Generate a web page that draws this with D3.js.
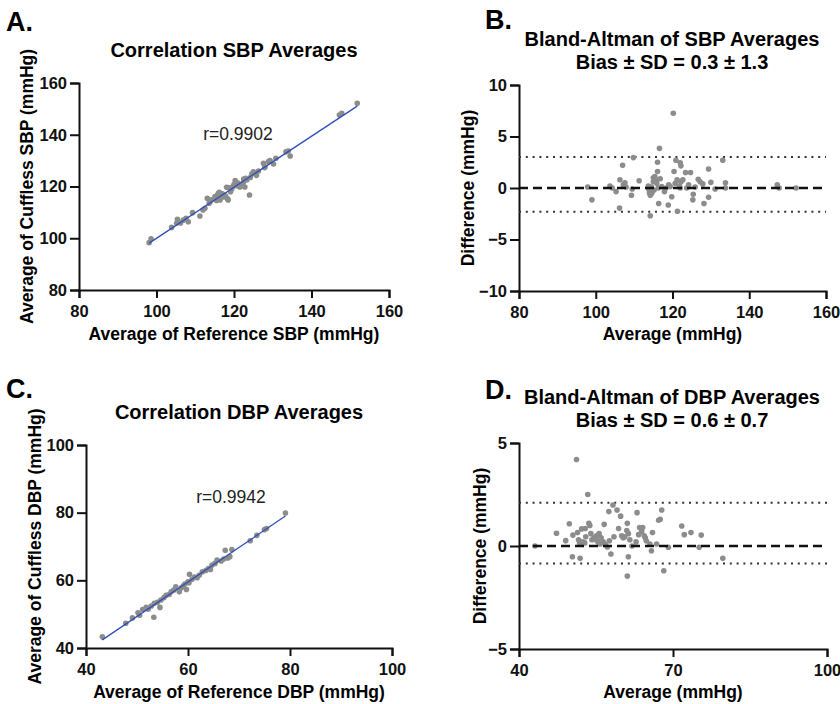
<!DOCTYPE html>
<html>
<head>
<meta charset="utf-8">
<script src="https://cdn.jsdelivr.net/npm/d3@7"></script>
<style>
  body { margin: 0; background: white; }
  svg { font-family: "Liberation Sans", Arial, sans-serif; }
</style>
</head>
<body>
<svg id="fig" width="840" height="704"></svg>
<script>
// A. reference SBP vs cuffless SBP
const sbpRef = [98.1, 98.6, 103.9, 105.2, 105.4, 106.2, 106.9, 107.6, 108.2, 109.3, 111.2, 112.0, 112.5, 113.1, 113.6, 113.8, 114.2, 115.1, 115.5, 115.8, 116.0, 116.2, 116.4, 116.8, 117.0, 117.3, 117.8, 118.1, 118.3, 118.5, 118.8, 119.1, 119.4, 119.8, 120.0, 120.3, 120.8, 121.0, 121.5, 122.0, 122.4, 122.5, 122.8, 123.0, 123.3, 124.0, 124.2, 124.6, 125.0, 125.8, 126.3, 127.6, 127.9, 128.0, 128.9, 129.3, 130.2, 130.8, 133.4, 134.0, 134.5, 147.2, 147.8, 151.8];
const sbpCuff = [98.3, 99.8, 104.2, 105.8, 107.3, 105.9, 107.0, 107.7, 106.4, 109.9, 108.6, 110.9, 111.6, 115.4, 113.5, 114.1, 114.9, 116.1, 114.6, 116.9, 117.4, 117.8, 114.8, 116.6, 117.2, 116.0, 116.4, 119.7, 115.3, 114.8, 119.5, 118.0, 119.0, 120.1, 120.8, 122.3, 120.3, 121.3, 119.8, 120.6, 121.5, 122.9, 119.8, 123.2, 122.5, 116.7, 123.5, 124.8, 125.7, 124.3, 126.0, 129.0, 127.3, 127.5, 129.6, 130.0, 128.7, 130.9, 133.4, 133.7, 131.8, 147.6, 148.3, 152.2];

// B. Bland-Altman SBP
const sbpAvg = [97.9, 99.0, 103.7, 104.3, 105.3, 106.3, 106.2, 107.0, 107.2, 107.6, 107.9, 109.3, 109.5, 109.8, 111.3, 113.7, 113.8, 114.0, 114.2, 114.2, 114.3, 114.5, 114.6, 115.0, 115.0, 115.2, 115.4, 115.7, 115.9, 116.1, 116.1, 116.3, 116.4, 116.6, 116.8, 117.2, 117.9, 118.3, 118.9, 119.0, 119.4, 119.8, 120.2, 120.4, 120.7, 120.9, 121.2, 121.3, 121.8, 122.0, 122.0, 122.2, 122.2, 122.7, 123.4, 123.7, 124.2, 124.7, 125.3, 125.4, 125.9, 126.7, 127.2, 127.9, 128.2, 129.4, 129.4, 130.0, 131.1, 133.1, 133.8, 133.8, 147.3, 147.8, 152.2];
const sbpDiff = [0.1, -1.15, 0.2, 0.0, -0.35, 0.8, -1.95, 2.2, 0.3, 0.5, 0.1, -0.7, -0.1, 2.95, 0.7, 0.2, -0.1, -0.45, -0.7, -2.7, -0.3, 0.1, -0.5, 1.0, 0.6, -0.2, 1.1, 0.8, 0.45, 2.5, 1.6, 0.0, -1.5, 3.85, 0.9, 0.15, -0.35, 0.0, -1.65, 0.3, 0.15, -0.85, 7.25, 1.6, 0.45, 2.7, 0.8, -2.25, 0.2, 2.45, 0.0, 2.15, 0.6, 0.8, 1.5, 0.0, 0.3, 1.5, -1.15, -0.6, 0.1, 0.85, 0.6, 0.4, -1.5, 1.85, -0.9, 0.55, -0.1, 2.7, 0.5, 0.0, 0.3, 0.0, 0.0];
const sbpLimits = [3.0, -2.3];

// C. reference DBP vs cuffless DBP
const dbpRef = [43.2, 47.8, 49.1, 50.2, 50.5, 51.1, 51.8, 52.2, 52.8, 53.3, 53.4, 54.0, 54.5, 54.7, 55.3, 55.7, 56.3, 56.7, 57.2, 57.6, 58.3, 58.7, 59.1, 59.4, 59.7, 60.0, 60.2, 60.3, 60.8, 61.3, 61.8, 62.2, 62.8, 63.5, 64.0, 64.4, 64.7, 65.3, 65.7, 66.5, 67.0, 67.3, 67.8, 68.2, 68.6, 72.2, 73.5, 75.0, 75.4, 79.1];
const dbpCuff = [43.3, 47.3, 48.9, 50.4, 49.7, 51.4, 52.0, 51.5, 52.4, 49.1, 53.2, 53.5, 52.0, 54.2, 54.9, 55.6, 55.8, 56.6, 57.1, 58.1, 56.6, 57.8, 58.4, 58.9, 57.3, 59.6, 59.3, 61.8, 60.3, 61.0, 60.8, 61.5, 62.5, 62.9, 63.5, 63.2, 64.5, 65.0, 66.0, 65.7, 66.3, 68.9, 66.6, 67.0, 69.1, 71.7, 73.3, 75.0, 75.3, 79.9];

// D. Bland-Altman DBP
const dbpAvg = [43.1, 47.3, 49.1, 49.8, 50.4, 50.5, 51.2, 51.4, 51.6, 51.8, 51.9, 52.2, 52.4, 52.8, 52.9, 53.0, 53.4, 53.6, 53.8, 54.0, 54.2, 54.6, 55.0, 55.1, 55.4, 55.6, 55.8, 56.0, 56.4, 56.6, 56.8, 57.2, 57.5, 57.6, 57.9, 58.3, 58.5, 59.1, 59.4, 59.8, 60.0, 60.3, 60.6, 61.0, 61.1, 61.3, 61.3, 61.1, 61.6, 62.0, 62.8, 63.0, 63.3, 63.5, 63.9, 64.1, 64.4, 64.6, 64.8, 65.5, 65.8, 66.0, 66.8, 67.2, 67.5, 67.8, 68.2, 69.1, 71.7, 72.2, 73.5, 75.1, 75.5, 79.7];
const dbpDiff = [0.0, 0.62, 0.26, 1.08, -0.52, 0.53, 4.2, 0.65, 0.3, 0.15, -0.6, 0.83, 0.2, 0.15, 0.85, 0.45, 2.5, 1.1, 1.0, 0.6, 0.3, 0.4, 0.3, 0.5, 0.2, 0.6, 0.1, 0.4, 0.2, 1.05, 0.1, -0.05, 1.67, 0.25, -0.39, 1.99, 0.45, 1.75, 0.85, 1.45, 0.5, 0.4, 0.45, 0.75, 1.1, 0.6, -0.52, -1.46, 0.3, 0.0, 0.2, 1.62, 0.55, 0.9, 0.7, 0.9, 0.5, 0.4, 0.25, 0.1, -0.23, 0.65, 0.1, 1.25, 1.3, 1.75, -1.2, -0.06, 0.97, 0.55, 0.65, -0.06, 0.53, -0.6];
const dbpLimits = [2.1, -0.85];

const svg = d3.select("#fig");
svg.append("rect").attr("width", 840).attr("height", 704).attr("fill", "white");

const dotColor = "#8c8c8c";
const lineBlue = "#2f4fb8";

function styleAxis(g) {
  g.select(".domain").attr("stroke", "#111").attr("stroke-width", 2);
  g.selectAll(".tick line").attr("stroke", "#111").attr("stroke-width", 2);
  g.selectAll(".tick text")
    .attr("fill", "#111")
    .style("font-size", "16.5px")
    .style("font-weight", "bold");
}

function drawAxes(p) {
  const x = d3.scaleLinear().domain(p.xDomain).range(p.xRange);
  const y = d3.scaleLinear().domain(p.yDomain).range(p.yRange);

  svg.append("g")
    .attr("transform", `translate(0,${p.yRange[0]})`)
    .call(d3.axisBottom(x).tickValues(p.xTicks).tickSizeOuter(0).tickSize(8).tickPadding(7))
    .call(styleAxis);

  svg.append("g")
    .attr("transform", `translate(${p.xRange[0]},0)`)
    .call(d3.axisLeft(y).tickValues(p.yTicks).tickSizeOuter(0).tickSize(9).tickPadding(3))
    .call(styleAxis);

  svg.append("text")
    .attr("x", p.letterPos[0]).attr("y", p.letterPos[1])
    .style("font-size", "27px").style("font-weight", "bold")
    .text(p.letter);

  p.title.forEach((t, i) => {
    svg.append("text")
      .attr("x", p.titlePos[0]).attr("y", p.titlePos[1] + i * 23)
      .attr("text-anchor", "middle")
      .style("font-size", "20px").style("font-weight", "bold")
      .text(t);
  });

  svg.append("text")
    .attr("x", (p.xRange[0] + p.xRange[1]) / 2).attr("y", p.xLabelY)
    .attr("text-anchor", "middle")
    .style("font-size", "17.5px").style("font-weight", "bold")
    .text(p.xLabel);

  svg.append("text")
    .attr("transform", `translate(${p.yLabelX},${(p.yRange[0] + p.yRange[1]) / 2}) rotate(-90)`)
    .attr("text-anchor", "middle")
    .attr("dy", "0.35em")
    .style("font-size", "17.5px").style("font-weight", "bold")
    .text(p.yLabel);

  return { x, y };
}

function drawDots(s, xs, ys) {
  svg.append("g")
    .selectAll("circle")
    .data(xs.map((d, i) => [d, ys[i]]))
    .join("circle")
      .attr("cx", d => s.x(d[0]))
      .attr("cy", d => s.y(d[1]))
      .attr("r", 2.8)
      .attr("fill", dotColor);
}

function drawCorrelation(p, xs, ys, rText, rPos) {
  const s = drawAxes(p);
  drawDots(s, xs, ys);

  // least squares fit
  const mx = d3.mean(xs), my = d3.mean(ys);
  const slope = d3.sum(xs, (d, i) => (d - mx) * (ys[i] - my)) / d3.sum(xs, d => (d - mx) ** 2);
  const icpt = my - slope * mx;
  const ext = d3.extent(xs);
  svg.append("line")
    .attr("x1", s.x(ext[0])).attr("y1", s.y(icpt + slope * ext[0]))
    .attr("x2", s.x(ext[1])).attr("y2", s.y(icpt + slope * ext[1]))
    .attr("stroke", lineBlue)
    .attr("stroke-width", 1.3);

  svg.append("text")
    .attr("x", rPos[0]).attr("y", rPos[1])
    .attr("text-anchor", "middle")
    .style("font-size", "17.5px")
    .attr("fill", "#222")
    .text(rText);
}

function drawBlandAltman(p, xs, ys, limits) {
  const s = drawAxes(p);
  const [x0, x1] = p.xDomain;

  limits.forEach(v => {
    svg.append("line")
      .attr("x1", s.x(x0)).attr("x2", s.x(x1))
      .attr("y1", s.y(v)).attr("y2", s.y(v))
      .attr("stroke", "#333")
      .attr("stroke-width", 2)
      .attr("stroke-dasharray", "2,4.8");
  });

  drawDots(s, xs, ys);

  svg.append("line")
    .attr("x1", s.x(x0)).attr("x2", s.x(x1))
    .attr("y1", s.y(0)).attr("y2", s.y(0))
    .attr("stroke", "#111")
    .attr("stroke-width", 2.3)
    .attr("stroke-dasharray", "9,5");
}

drawCorrelation({
  xDomain: [80, 160], xRange: [79, 389], xTicks: [80, 100, 120, 140, 160],
  yDomain: [80, 160], yRange: [290, 83], yTicks: [80, 100, 120, 140, 160],
  letter: "A.", letterPos: [6, 31],
  title: ["Correlation SBP Averages"], titlePos: [234, 57],
  xLabel: "Average of Reference SBP (mmHg)", xLabelY: 340,
  yLabel: "Average of Cuffless SBP (mmHg)", yLabelX: 27
}, sbpRef, sbpCuff, "r=0.9902", [238, 140]);

drawBlandAltman({
  xDomain: [80, 160], xRange: [519, 826], xTicks: [80, 100, 120, 140, 160],
  yDomain: [-10, 10], yRange: [291, 85], yTicks: [-10, -5, 0, 5, 10],
  letter: "B.", letterPos: [485, 29],
  title: ["Bland-Altman of SBP Averages", "Bias ± SD = 0.3 ± 1.3"], titlePos: [672, 46],
  xLabel: "Average (mmHg)", xLabelY: 340,
  yLabel: "Difference (mmHg)", yLabelX: 468
}, sbpAvg, sbpDiff, sbpLimits);

drawCorrelation({
  xDomain: [40, 100], xRange: [86, 392], xTicks: [40, 60, 80, 100],
  yDomain: [40, 100], yRange: [648, 445], yTicks: [40, 60, 80, 100],
  letter: "C.", letterPos: [6, 398],
  title: ["Correlation DBP Averages"], titlePos: [239, 419],
  xLabel: "Average of Reference DBP (mmHg)", xLabelY: 698,
  yLabel: "Average of Cuffless DBP (mmHg)", yLabelX: 35
}, dbpRef, dbpCuff, "r=0.9942", [231, 503]);

drawBlandAltman({
  xDomain: [40, 100], xRange: [519, 827], xTicks: [40, 70, 100],
  yDomain: [-5, 5], yRange: [649, 443], yTicks: [-5, 0, 5],
  letter: "D.", letterPos: [485, 399],
  title: ["Bland-Altman of DBP Averages", "Bias ± SD = 0.6 ± 0.7"], titlePos: [672, 404],
  xLabel: "Average (mmHg)", xLabelY: 698,
  yLabel: "Difference (mmHg)", yLabelX: 480
}, dbpAvg, dbpDiff, dbpLimits);
</script>
</body>
</html>
